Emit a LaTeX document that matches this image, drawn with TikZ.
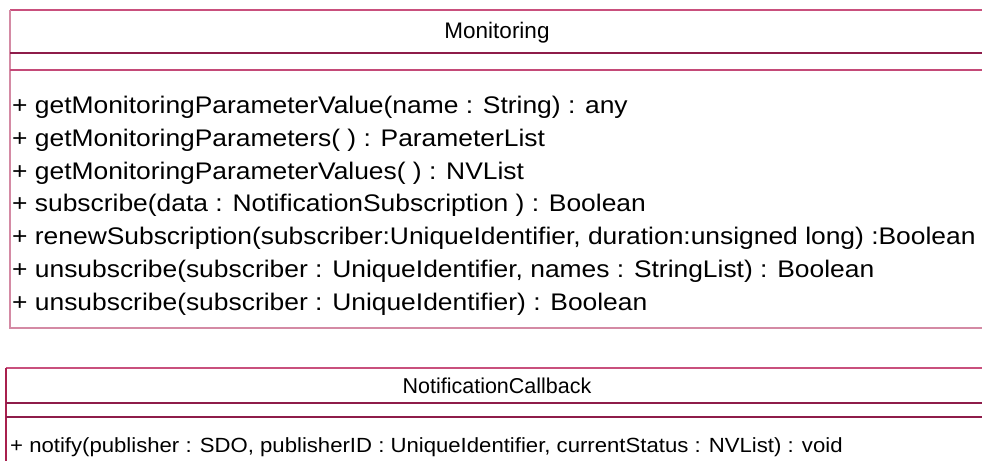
\documentclass[tikz,border=0pt]{standalone}
\usepackage{fontspec}
\setmainfont{Liberation Sans}
\newfontfamily\widesans[FakeStretch=1.1]{Liberation Sans}
\newfontfamily\notesans[FakeStretch=1.08]{Liberation Sans}
\definecolor{edgepink}{HTML}{C9507D}
\definecolor{sidepink}{HTML}{D48AA4}
\definecolor{sepdark}{HTML}{8E1C4A}
\definecolor{seppink}{HTML}{C44A78}
\definecolor{sidered}{HTML}{A8204E}
\begin{document}
\begin{tikzpicture}[x=1pt,y=-1pt,
  classname/.style={anchor=base,inner sep=0pt,font=\fontsize{22.5}{26}\selectfont},
  member/.style={anchor=base west,inner sep=0pt,font=\widesans\fontsize{24}{28}\selectfont},
  smallname/.style={anchor=base,inner sep=0pt,font=\fontsize{21.5}{25}\selectfont},
  smallmember/.style={anchor=base west,inner sep=0pt,font=\notesans\fontsize{20.5}{24}\selectfont},
  edge/.style={line width=1.2pt}]
\useasboundingbox (0,0) rectangle (982,461);
\fill[white] (0,0) rectangle (982,461);

% Monitoring class box (open to the right)
\coordinate (mtl) at (10,10);
\coordinate (mtr) at (982,10);
\coordinate (mbl) at (10,328);
\coordinate (mbr) at (982,328);
\draw[edge,edgepink] (mtr) -- (mtl);
\draw[edge,sidepink] (mtl) -- (mbl) -- (mbr);
\draw[edge,sepdark] (10,53) -- (982,53);
\draw[edge,seppink] (10,70) -- (982,70);

\node[classname] (mname) at (497,38) {Monitoring};
\node[member] (m1) at (12,113.5) {+ getMonitoringParameterValue(name : String) : any};
\node[member] (m2) at (12,146.3) {+ getMonitoringParameters( ) : ParameterList};
\node[member] (m3) at (12,179.1) {+ getMonitoringParameterValues( ) : NVList};
\node[member] (m4) at (12,211.9) {+ subscribe(data : NotificationSubscription ) : Boolean};
\node[member] (m5) at (12,244.7) {+ renewSubscription(subscriber:UniqueIdentifier, duration:unsigned long) :Boolean};
\node[member] (m6) at (12,277.5) {+ unsubscribe(subscriber : UniqueIdentifier, names : StringList) : Boolean};
\node[member] (m7) at (12,310.3) {+ unsubscribe(subscriber : UniqueIdentifier) : Boolean};

% NotificationCallback class box (open to the right and below)
\draw[edge,edgepink] (982,368) -- (6,368);
\draw[edge,sidered] (6,368) -- (6,461);
\draw[edge,sepdark] (6,403) -- (982,403);
\draw[edge,sepdark] (6,417) -- (982,417);

\node[smallname] (nname) at (497,393) {NotificationCallback};
\node[smallmember] (n1) at (10,452) {+ notify(publisher : SDO, publisherID : UniqueIdentifier, currentStatus : NVList) : void};
\end{tikzpicture}
\end{document}
